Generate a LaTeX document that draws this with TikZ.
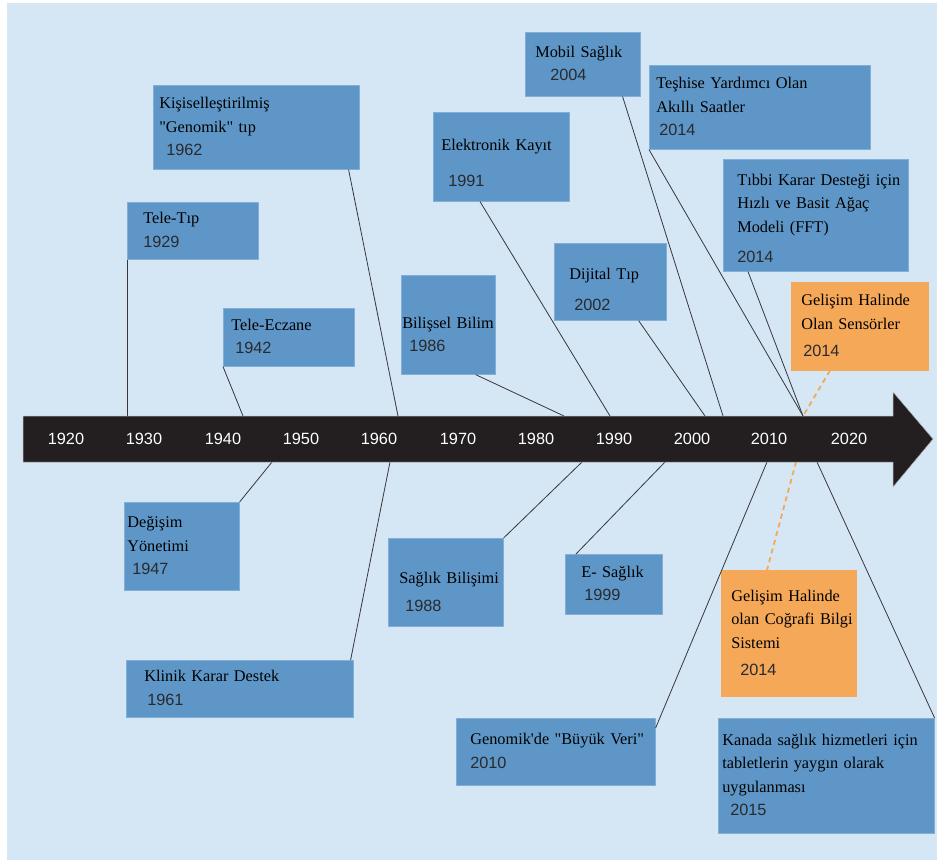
\documentclass[tikz,border=0pt]{standalone}
\usepackage{fontspec}
\setmainfont{Liberation Serif}
\setsansfont{Liberation Sans}
\usepackage{tikz}
\usetikzlibrary{arrows,positioning}
\definecolor{bgblue}{RGB}{213,230,244}
\definecolor{boxblue}{RGB}{94,151,199}
\definecolor{boxedge}{RGB}{130,175,216}
\definecolor{boxorange}{RGB}{245,168,88}
\definecolor{barblack}{RGB}{35,31,32}
\definecolor{linkgray}{RGB}{55,55,60}
\definecolor{yeartext}{RGB}{42,42,46}
\newcommand{\lbl}{\fontsize{16.3}{23.5}\selectfont}
\newcommand{\yr}[2][4pt]{\hspace*{#1}{\sffamily\color{yeartext}#2}}

\begin{document}
\begin{tikzpicture}[x=1pt, y=-1pt, semithick,
   evbox/.style={fill=boxblue, draw=boxedge, line width=0.6pt, anchor=north west, align=left, inner ysep=0pt, font=\lbl},
   orbox/.style={evbox, fill=boxorange, draw=boxorange},
   link/.style={draw=linkgray, line width=0.8pt},
   devlink/.style={draw=boxorange, line width=1.8pt, dash pattern=on 5pt off 4pt},
   decade/.style={text=white, font=\sffamily\lbl}]
  \useasboundingbox (0,0) rectangle (937,860);
  \fill[bgblue] (7,3) rectangle (937,860);

  % events above the time line
  \node[evbox, text width=194pt, inner xsep=6pt, minimum height=84pt] (gen) at (153,85) {\begin{tabular}{@{}l@{}} Kişiselleştirilmiş\\ \textquotedbl Genomik\textquotedbl{} tıp\\ \yr[7pt]{1962} \end{tabular}};
  \node[evbox, text width=99pt, inner xsep=16pt, minimum height=57pt] (teletip) at (127,202) {\begin{tabular}{@{}l@{}} Tele-Tıp\\ \yr[0pt]{1929} \end{tabular}};
  \node[evbox, text width=115pt, inner xsep=8pt, minimum height=58pt] (eczane) at (223,308) {\begin{tabular}{@{}l@{}} Tele-Eczane\\ \yr{1942} \end{tabular}};
  \node[evbox, text width=92pt, inner xsep=1pt, minimum height=99pt] (bilissel) at (401,275) {\begin{tabular}{@{}l@{}} Bilişsel Bilim\rule{0pt}{37.5pt}\\ \yr[7pt]{1986} \end{tabular}};
  \node[evbox, text width=120pt, inner xsep=8pt, minimum height=89pt] (elektronik) at (433,112) {\begin{tabular}{@{}l@{}} Elektronik Kayıt\rule{0pt}{29.5pt}\\[12.5pt] \yr[7pt]{1991} \end{tabular}};
  \node[evbox, text width=95pt, inner xsep=10pt, minimum height=64pt] (mobil) at (525,32) {\begin{tabular}{@{}l@{}} Mobil Sağlık\\ \yr[15pt]{2004} \end{tabular}};
  \node[evbox, text width=207pt, inner xsep=7pt, minimum height=84pt] (teshis) at (649,65) {\begin{tabular}{@{}l@{}} Teşhise Yardımcı Olan\\ Akıllı Saatler\\ \yr[3pt]{2014} \end{tabular}};
  \node[evbox, text width=82pt, inner xsep=15pt, minimum height=77pt] (dijital) at (554,243) {\begin{tabular}{@{}l@{}} Dijital Tıp\rule{0pt}{32.5pt}\\[7.5pt] \yr[5pt]{2002} \end{tabular}};
  \node[evbox, text width=157pt, inner xsep=14pt, minimum height=112pt] (tibbi) at (723,159) {\begin{tabular}{@{}l@{}} Tıbbi Karar Desteği için\rule{0pt}{23.5pt}\\ Hızlı ve Basit Ağaç\\ Modeli (FFT)\\[6.5pt] \yr[0pt]{2014} \end{tabular}};
  \node[orbox, text width=117pt, inner xsep=10pt, minimum height=88pt] (sensor) at (791,282) {\begin{tabular}{@{}l@{}} Gelişim Halinde\\ Olan Sensörler\\[3.5pt] \yr[2pt]{2014} \end{tabular}};

  % events below the time line
  \node[evbox, text width=109pt, inner xsep=3pt, minimum height=88pt] (degisim) at (124,502) {\begin{tabular}{@{}l@{}} Değişim\\ Yönetimi\\ \yr[5pt]{1947} \end{tabular}};
  \node[evbox, text width=191pt, inner xsep=18pt, minimum height=57pt] (klinik) at (126,660) {\begin{tabular}{@{}l@{}} Klinik Karar Destek\\ \yr[3pt]{1961} \end{tabular}};
  \node[evbox, text width=93pt, inner xsep=11pt, minimum height=88pt] (saglikbil) at (388,538) {\begin{tabular}{@{}l@{}} Sağlık Bilişimi\rule{0pt}{36.5pt}\\[4.5pt] \yr[6pt]{1988} \end{tabular}};
  \node[evbox, text width=65pt, inner xsep=16pt, minimum height=60pt] (esaglik) at (565,554) {\begin{tabular}{@{}l@{}} E- Sağlık\\ \yr[3pt]{1999} \end{tabular}};
  \node[evbox, text width=171pt, inner xsep=14pt, minimum height=67pt] (buyukveri) at (456,718) {\begin{tabular}{@{}l@{}} Genomik\textquotesingle de \textquotedbl Büyük Veri\textquotedbl\\ \yr[0pt]{2010} \end{tabular}};
  \node[orbox, text width=115pt, inner xsep=10pt, minimum height=126pt] (cografi) at (721,570) {\begin{tabular}{@{}l@{}} Gelişim Halinde\\ olan Coğrafi Bilgi\\ Sistemi\\[3.5pt] \yr[9pt]{2014} \end{tabular}};
  \node[evbox, text width=208pt, inner xsep=4pt, minimum height=115pt] (kanada) at (718,718) {\begin{tabular}{@{}l@{}} Kanada sağlık hizmetleri için\\ tabletlerin yaygın olarak\\ uygulanması\\ \yr[8pt]{2015} \end{tabular}};

  % points on the time line
  \coordinate (c1929) at (127,416);
  \coordinate (c1942) at (243,416);
  \coordinate (c1962) at (398,416);
  \coordinate (c1986) at (564,416);
  \coordinate (c1991) at (610,416);
  \coordinate (c2002) at (705,416);
  \coordinate (c2004) at (723,416);
  \coordinate (c2014) at (803,416);
  \coordinate (c1947) at (272,462);
  \coordinate (c1961) at (390,462);
  \coordinate (c1988) at (582,462);
  \coordinate (c1999) at (665,462);
  \coordinate (c2010) at (767,462);
  \coordinate (c2014b) at (796,462);
  \coordinate (c2015) at (817,462);

  \draw[devlink] ([xshift=39pt]sensor.south west) -- (c2014) -- (c2014b) -- ([xshift=46pt]cografi.north west);
  \path (teletip.south west) edge[link] (c1929);
  \path (eczane.south west) edge[link] (c1942);
  \path ([xshift=-11pt]gen.south east) edge[link] (c1962);
  \path ([xshift=-20pt]bilissel.south east) edge[link] (c1986);
  \path ([xshift=47pt]elektronik.south west) edge[link] (c1991);
  \path ([xshift=-28pt]dijital.south east) edge[link] (c2002);
  \path ([xshift=-18pt]mobil.south east) edge[link] (c2004);
  \path (teshis.south west) edge[link] (c2014);
  \path ([xshift=25pt]tibbi.south west) edge[link] (c2014);
  \path (degisim.north east) edge[link] (c1947);
  \path ([xshift=-3pt]klinik.north east) edge[link] (c1961);
  \path (saglikbil.north east) edge[link] (c1988);
  \path ([xshift=11pt]esaglik.north west) edge[link] (c1999);
  \path ([yshift=-10pt]buyukveri.north east) edge[link] (c2010);
  \path (kanada.north east) edge[link] (c2015);

  % time line
  \filldraw[fill=barblack, draw=gray!60, line width=0.5pt] (23,416) -- (893,416) -- (893,392) -- (933,439) -- (893,487) -- (893,462) -- (23,462) -- cycle;
  \node[decade] (d1920) at (66,439) {1920};
  \node[decade] (d1930) at (144,439) {1930};
  \node[decade] (d1940) at (223,439) {1940};
  \node[decade] (d1950) at (301,439) {1950};
  \node[decade] (d1960) at (379,439) {1960};
  \node[decade] (d1970) at (458,439) {1970};
  \node[decade] (d1980) at (536,439) {1980};
  \node[decade] (d1990) at (614,439) {1990};
  \node[decade] (d2000) at (692,439) {2000};
  \node[decade] (d2010) at (769,439) {2010};
  \node[decade] (d2020) at (849,439) {2020};
\end{tikzpicture}
\end{document}
